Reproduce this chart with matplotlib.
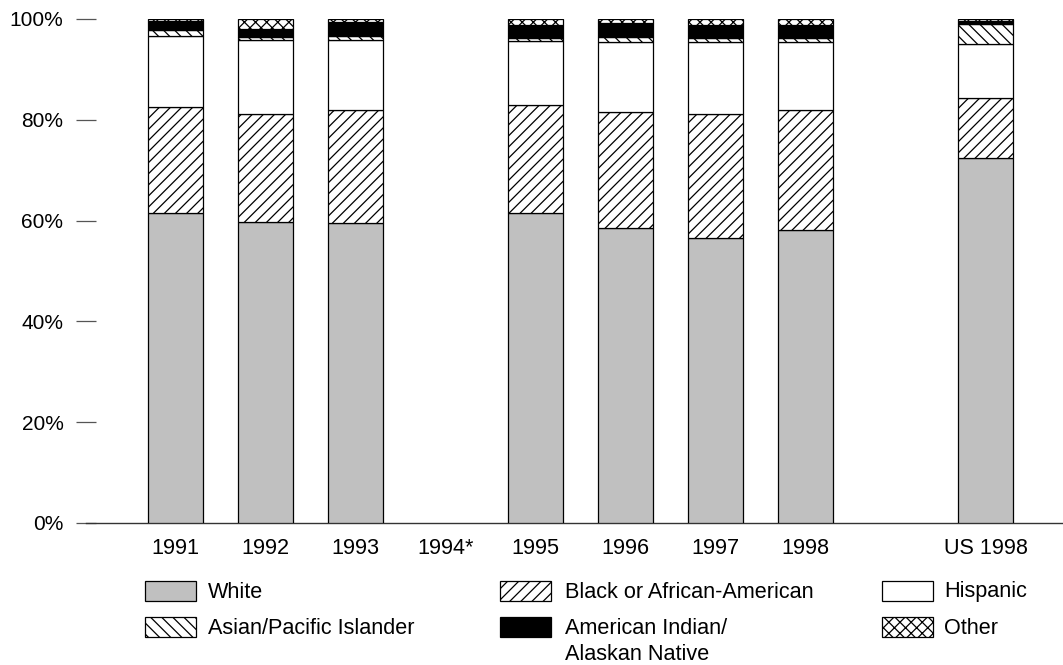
import matplotlib
matplotlib.use("Agg")
import matplotlib.pyplot as plt
from matplotlib.patches import Rectangle
import numpy as np

plt.rcParams['font.family'] = ['Liberation Sans', 'DejaVu Sans']
plt.rcParams['hatch.linewidth'] = 0.9

categories = ["1991", "1992", "1993", "1994*", "1995", "1996", "1997", "1998", "US 1998"]
positions = [0, 1, 2, 3, 4, 5, 6, 7, 9]

# percentages; 1994* has no data
white    = [61.5, 59.7, 59.5, 0, 61.5, 58.5, 56.5, 58.1, 72.4]
black    = [21.0, 21.5, 22.4, 0, 21.4, 23.0, 24.7, 23.8, 11.9]
hispanic = [14.1, 14.6, 13.9, 0, 12.7, 13.9, 14.2, 13.6, 10.7]
asian    = [1.2, 0.7, 0.9, 0, 0.7, 1.1, 0.9, 0.8, 4.0]
amind    = [1.8, 1.5, 2.8, 0, 2.5, 2.8, 2.5, 2.5, 0.7]
other    = [0.4, 2.0, 0.5, 0, 1.2, 0.7, 1.2, 1.2, 0.3]

series = [
    ("White", white, "#c0c0c0", None),
    ("Black or African-American", black, "white", "///"),
    ("Hispanic", hispanic, "white", None),
    ("Asian/Pacific Islander", asian, "white", "\\\\\\"),
    ("American Indian/\nAlaskan Native", amind, "black", None),
    ("Other", other, "white", "xxx"),
]
yticks = [0, 20, 40, 60, 80, 100]
ytick_labels = ["0%", "20%", "40%", "60%", "80%", "100%"]

FS = 15.6
W, H = 1063, 665
fig = plt.figure(figsize=(W / 100, H / 100), dpi=100)
ax_left, ax_right, ax_top, ax_bot = 86, 1063, 19, 523
ax = fig.add_axes([ax_left / W, (H - ax_bot) / H, (ax_right - ax_left) / W, (ax_bot - ax_top) / H])

bar_w = 55 / 90
draw_pos = [p for p, c in zip(positions, categories) if c != "1994*"]
idx = [i for i, c in enumerate(categories) if c != "1994*"]
bottom = np.zeros(len(idx))
for name, vals, color, hatch in series:
    v = np.array([vals[i] for i in idx])
    ax.bar(draw_pos, v, width=bar_w, bottom=bottom, color=color, edgecolor="black",
           linewidth=0.9, hatch=hatch, zorder=3)
    bottom += v

ax.set_ylim(0, 100)
ax.set_xlim(-(175.5 - ax_left) / 90, (ax_right - 175.5) / 90)
for s in ["left", "right", "top"]:
    ax.spines[s].set_visible(False)
ax.spines["bottom"].set_color("#333333")
ax.spines["bottom"].set_linewidth(1.0)
ax.set_yticks(yticks)
ax.set_yticklabels(ytick_labels, fontsize=15)
ax.tick_params(axis="y", direction="inout", length=14.4, width=0.9, color="#555555", pad=9)
ax.set_xticks(positions)
ax.set_xticklabels(categories, fontsize=FS)
ax.tick_params(axis="x", length=0, pad=11)

# legend (manual layout)
patch_x = [145, 500, 882]
text_x = [208, 565, 944]
rows = [591, 627]
order = [[0, 1, 2], [3, 4, 5]]
for r, row in enumerate(order):
    for c, si in enumerate(row):
        name, vals, color, hatch = series[si]
        yc = rows[r]
        rect = Rectangle((patch_x[c] / W, (H - yc - 10) / H), 51 / W, 20 / H, transform=fig.transFigure,
                         facecolor=color, edgecolor="black", linewidth=0.9, hatch=hatch)
        fig.patches.append(rect)
        for k, line in enumerate(name.split("\n")):
            fig.text(text_x[c] / W, (H - yc - 1 - 27 * k) / H, line, fontsize=FS, va="center", ha="left")

fig.savefig("out.png", dpi=100)
